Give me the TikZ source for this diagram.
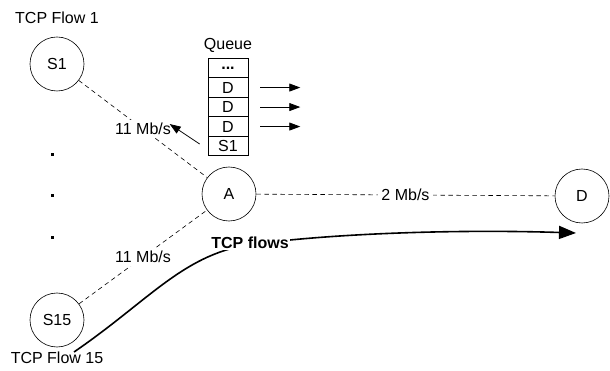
\documentclass[tikz,border=0pt]{standalone}
\usepackage{fontspec}
\setmainfont{Liberation Sans}
\usetikzlibrary{arrows.meta}
\tikzset{
  host/.style={draw,circle,minimum size=54pt,inner sep=0pt,line width=0.6pt},
  link/.style={dash pattern=on 4.5pt off 3.5pt,line width=0.6pt},
  rate/.style={fill=white,inner sep=3pt},
  cell/.style={draw,minimum width=40pt,minimum height=19.5pt,inner sep=0pt,anchor=north,line width=0.6pt},
  pkt/.style={-{Triangle[length=11pt,width=8pt]},line width=0.8pt},
  flow/.style={-{Triangle[length=17pt,width=13pt]},line width=1.6pt}
}
\newcommand\qdots{\textbf{...}}
\begin{document}
\begin{tikzpicture}[x=1pt,y=-1pt,font=\fontsize{16}{18}\selectfont]
    \useasboundingbox (0,0) rectangle (610,371);
    % hosts
    \node[host] (S1) at (57,64) {S1};
    \node[host] (S15) at (57,320) {S15};
    \node[host] (A) at (229,194) {A};
    \node[host] (D) at (582,196) {D};
    \node (f1) at (57,18) {TCP Flow 1};
    \node (f15) at (57,358) {TCP Flow 15};
    \foreach \y in {153,194,236}
    \fill (50.5,\y) rectangle ++(3,3);
    % links
    \draw[link] (S1) -- node[rate] {11 Mb/s} (A);
    \draw[link] (S15) -- node[rate] {11 Mb/s} (A);
    \draw[link] (A) -- node[rate] {2 Mb/s} (D);
    % queue at A
    \node (qt) at (228,45) {Queue};
    \def\h{19.5}
    \foreach \t [count=\i] in {\qdots,D,D,D,S1}
    \node[cell] (q\i) at (228,{58+(\i-1)*\h}) {\t};
    \foreach \i in {2,3,4}
    \draw[pkt] (q\i.east) ++(12,0) -- ++(40,0);
    \draw[pkt] (q5.west) ++(-8,-2) -- ++(-30,-20);
    % flows
    \coordinate (fs) at (74,352);
    \coordinate (fe) at (576,233);
    \draw[flow] (fs) .. controls (150,300) and (185,252) .. (255,244)
                .. controls (330,234) and (450,229) .. (fe);
    \node[fill=white,inner sep=1pt,font=\fontsize{16}{18}\selectfont\bfseries] (tf) at (250,243) {TCP flows};
\end{tikzpicture}
\end{document}
